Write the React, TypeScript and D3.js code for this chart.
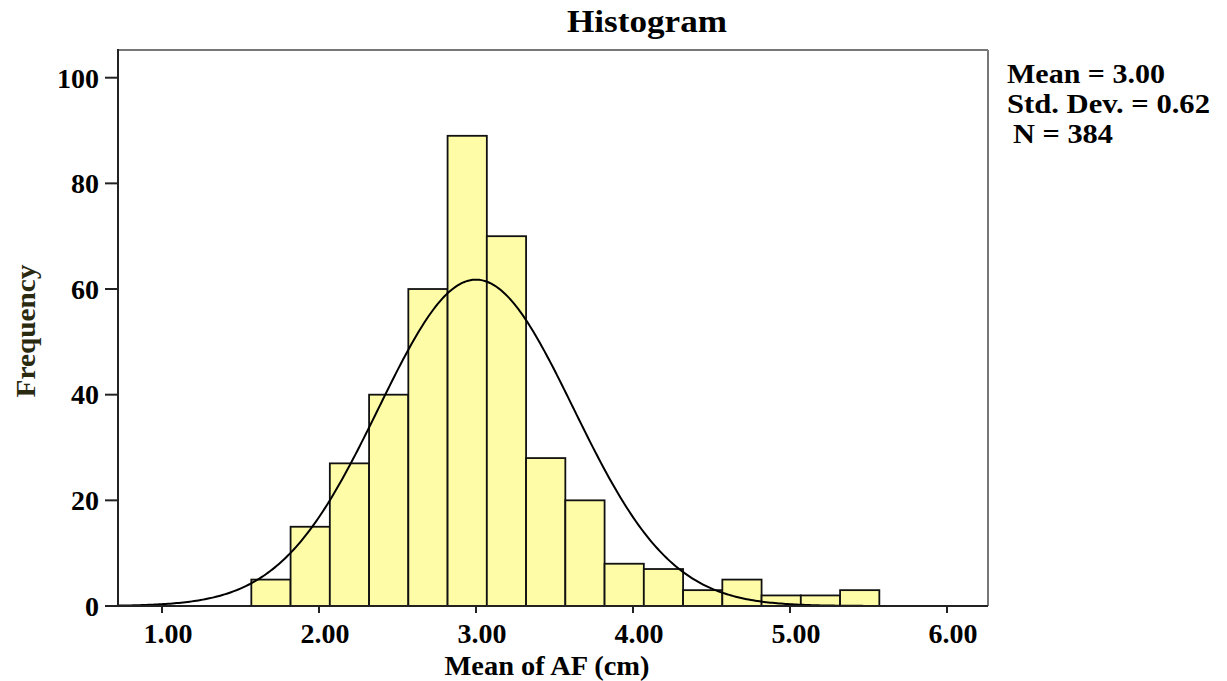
import React from "react";
import * as d3 from "d3";

const binStart = 1.569;
const binWidth = 0.25;
const frequencies = [5, 15, 27, 40, 60, 89, 70, 28, 20, 8, 7, 3, 5, 2, 2, 3];
const xTicks = [1, 2, 3, 4, 5, 6];
const yTicks = [0, 20, 40, 60, 80, 100];
const statLines = ["Mean = 3.00", "Std. Dev. = 0.62", "N = 384"];
const mean = 3.0;
const sd = 0.62;
const n = 384;

const W = 1227;
const H = 681;
const left = 118;
const right = 988;
const top = 50;
const bottom = 606;

export default function App() {
  const x = d3.scaleLinear().domain([1, 6]).range([162, 947]);
  const y = d3.scaleLinear().domain([0, 100]).range([bottom, 77.7]);
  const x0 = x.invert(left);
  const x1 = x.invert(right);
  const font = "'Liberation Serif', 'Times New Roman', serif";

  const pdf = (v: number) =>
    (n * binWidth) / (sd * Math.sqrt(2 * Math.PI)) * Math.exp(-0.5 * ((v - mean) / sd) ** 2);
  const curvePts = d3.range(0, 401).map((i) => {
    const v = x0 + ((x1 - x0) * i) / 400;
    return [x(v), y(pdf(v))] as [number, number];
  });
  const line = d3.line().curve(d3.curveLinear)(curvePts) || "";
  const statWidths = [158, 203, 100];

  return (
    <svg width={W} height={H} style={{ position: "absolute", left: 0, top: 0, background: "#fff" }}>
      {/* frame */}
      <line x1={left} x2={right} y1={top} y2={top} stroke="#777" strokeWidth={2} />
      <line x1={right} x2={right} y1={top} y2={bottom} stroke="#777" strokeWidth={2} />
      {/* bars */}
      {frequencies.map((f, i) => {
        const a = binStart + i * binWidth;
        return (
          <rect
            key={i}
            x={x(a)}
            y={y(f)}
            width={x(a + binWidth) - x(a)}
            height={y(0) - y(f)}
            fill="#FFFCA8"
            stroke="#111"
            strokeWidth={1.8}
          />
        );
      })}
      {/* curve */}
      <path d={line} fill="none" stroke="#000" strokeWidth={2} />
      {/* axes */}
      <line x1={left} x2={left} y1={top - 1} y2={bottom} stroke="#222" strokeWidth={2} />
      <line x1={left} x2={right} y1={bottom} y2={bottom} stroke="#222" strokeWidth={2} />
      {yTicks.map((t) => (
        <g key={t}>
          <line x1={left - 13} x2={left} y1={y(t)} y2={y(t)} stroke="#222" strokeWidth={2} />
          <text
            x={99}
            y={y(t)}
            dy="0.35em"
            textAnchor="end"
            fontFamily={font}
            fontWeight="bold"
            fontSize={28}
            fill="#000"
          >
            {t}
          </text>
        </g>
      ))}
      {xTicks.map((t) => (
        <g key={t}>
          <line x1={x(t)} x2={x(t)} y1={bottom} y2={bottom + 7} stroke="#222" strokeWidth={2} />
          <text
            x={x(t) + 6}
            y={643}
            textAnchor="middle"
            fontFamily={font}
            fontWeight="bold"
            fontSize={28}
            fill="#000"
          >
            {t.toFixed(2)}
          </text>
        </g>
      ))}
      {/* titles */}
      <text
        x={647}
        y={32}
        textAnchor="middle"
        fontFamily={font}
        fontWeight="bold"
        fontSize={32}
        textLength={160}
        lengthAdjust="spacingAndGlyphs"
        fill="#000"
      >
        Histogram
      </text>
      <text
        x={547}
        y={675}
        textAnchor="middle"
        fontFamily={font}
        fontWeight="bold"
        fontSize={28}
        textLength={205}
        lengthAdjust="spacingAndGlyphs"
        fill="#000"
      >
        Mean of AF (cm)
      </text>
      <text
        transform={`translate(35, 331) rotate(-90)`}
        textAnchor="middle"
        fontFamily={font}
        fontWeight="bold"
        fontSize={28}
        textLength={133}
        lengthAdjust="spacingAndGlyphs"
        fill="#2a2a10"
      >
        Frequency
      </text>
      {statLines.map((s, i) => (
        <text
          key={i}
          x={i === 2 ? 1013 : 1007}
          y={83 + i * 30}
          fontFamily={font}
          fontWeight="bold"
          fontSize={27}
          textLength={statWidths[i]}
          lengthAdjust="spacingAndGlyphs"
          fill="#000"
        >
          {s}
        </text>
      ))}
    </svg>
  );
}
